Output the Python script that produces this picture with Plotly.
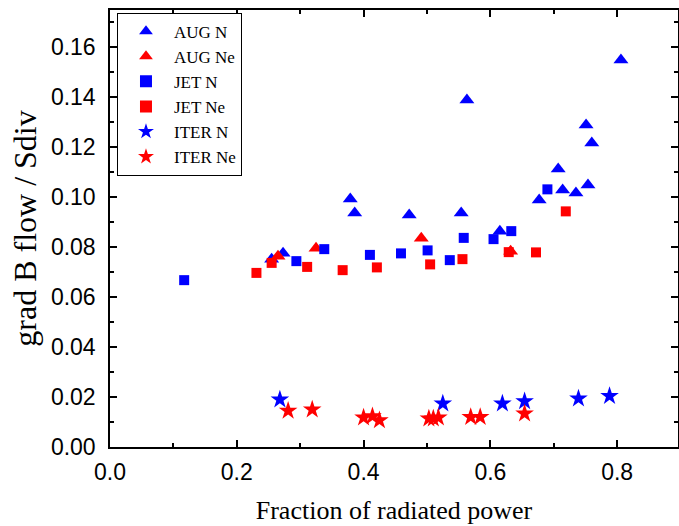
import plotly.graph_objects as go

aug_n_x = [0.255, 0.273, 0.379, 0.386, 0.472, 0.554, 0.563, 0.806, 0.751, 0.760, 0.707, 0.714, 0.735, 0.754, 0.677, 0.615]
aug_n_y = [0.0751, 0.0775, 0.0991, 0.0935, 0.0927, 0.0935, 0.1387, 0.1547, 0.1287, 0.1215, 0.1111, 0.1027, 0.1015, 0.1047, 0.0987, 0.0863]

aug_ne_x = [0.265, 0.325, 0.491, 0.632]
aug_ne_y = [0.0763, 0.0795, 0.0835, 0.0783]

jet_n_x = [0.117, 0.294, 0.338, 0.410, 0.459, 0.501, 0.536, 0.558, 0.605, 0.633, 0.690]
jet_n_y = [0.0667, 0.0743, 0.0791, 0.0768, 0.0774, 0.0786, 0.0747, 0.0836, 0.0831, 0.0863, 0.1030]

jet_ne_x = [0.231, 0.255, 0.311, 0.367, 0.421, 0.505, 0.556, 0.629, 0.672, 0.719]
jet_ne_y = [0.0696, 0.0736, 0.0720, 0.0707, 0.0718, 0.0730, 0.0751, 0.0779, 0.0778, 0.0942]

iter_n_x = [0.268, 0.525, 0.619, 0.654, 0.739, 0.788]
iter_n_y = [0.0190, 0.0174, 0.0174, 0.0183, 0.0194, 0.0204]

iter_ne_x = [0.281, 0.319, 0.400, 0.414, 0.425, 0.503, 0.510, 0.518, 0.569, 0.584, 0.654]
iter_ne_y = [0.0145, 0.0150, 0.0118, 0.0123, 0.0107, 0.0114, 0.0114, 0.0118, 0.0120, 0.0120, 0.0134]

series = [
    ("AUG N", aug_n_x, aug_n_y, "triangle-up", "#0000FF", 13),
    ("AUG Ne", aug_ne_x, aug_ne_y, "triangle-up", "#FF0000", 13),
    ("JET N", jet_n_x, jet_n_y, "square", "#0000FF", 10),
    ("JET Ne", jet_ne_x, jet_ne_y, "square", "#FF0000", 10),
    ("ITER N", iter_n_x, iter_n_y, "star", "#0000FF", 14),
    ("ITER Ne", iter_ne_x, iter_ne_y, "star", "#FF0000", 14),
]

fig = go.Figure()
for name, xs, ys, sym, col, sz in series:
    fig.add_trace(go.Scatter(x=xs, y=ys, mode="markers", name=name,
                             marker=dict(symbol=sym, color=col, size=sz, line=dict(width=0))))

tickfont = dict(family="Liberation Sans", size=23, color="black")

fig.update_layout(
    width=679, height=526,
    margin=dict(l=110, r=1, t=10, b=79),
    plot_bgcolor="white", paper_bgcolor="white",
    showlegend=True,
    legend=dict(x=0.0123, y=0.994, xanchor="left", yanchor="top",
                bordercolor="black", borderwidth=1, bgcolor="white",
                font=dict(family="Liberation Serif", size=17, color="black"),
                itemsizing="constant", itemwidth=46, tracegroupgap=0),
)
fig.update_xaxes(range=[0, 0.896], tickvals=[0.0, 0.2, 0.4, 0.6, 0.8],
                 ticktext=["0.0", "0.2", "0.4", "0.6", "0.8"],
                 ticks="inside", ticklen=7, tickwidth=1.5, tickcolor="black",
                 minor=dict(ticks="inside", ticklen=4, dtick=0.1, tickwidth=1.5, tickcolor="black"),
                 showline=True, linecolor="black", linewidth=1.5, mirror="ticks",
                 showgrid=False, zeroline=False, tickfont=tickfont, ticklabelstandoff=4,
                 automargin=False,
                 title=dict(text="Fraction of radiated power",
                            font=dict(family="Liberation Serif", size=26, color="black"), standoff=16))
fig.update_yaxes(range=[0, 0.1747], tickvals=[0.0, 0.02, 0.04, 0.06, 0.08, 0.10, 0.12, 0.14, 0.16],
                 ticktext=["0.00", "0.02", "0.04", "0.06", "0.08", "0.10", "0.12", "0.14", "0.16"],
                 ticks="inside", ticklen=7, tickwidth=1.5, tickcolor="black",
                 minor=dict(ticks="inside", ticklen=4, dtick=0.01, tickwidth=1.5, tickcolor="black"),
                 showline=True, linecolor="black", linewidth=1.5, mirror="ticks",
                 showgrid=False, zeroline=False, tickfont=tickfont, ticklabelstandoff=8,
                 automargin=False,
                 title=dict(text="grad B flow / Sdiv",
                            font=dict(family="Liberation Serif", size=32, color="black"), standoff=5))

fig.write_html("out.html", config={"displayModeBar": False},
               post_script="document.body.style.margin='0px';")
